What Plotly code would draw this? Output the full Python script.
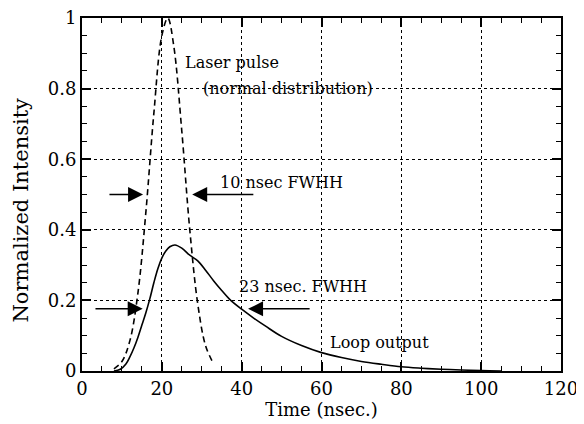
import plotly.graph_objects as go

# Laser pulse (dashed, normal distribution)
laser_t = [8, 10, 12, 14, 16, 18, 20, 21.5, 23, 25, 27, 29, 31, 33]
laser_i = [0.006, 0.027, 0.086, 0.22, 0.45, 0.73, 0.95, 1.0, 0.92, 0.68, 0.40, 0.19, 0.07, 0.02]

# Loop output (solid)
loop_t = [8, 9.6, 11, 12, 13, 14, 15, 16, 17, 18, 19, 20, 21, 22, 23.3, 25, 27, 29, 31, 33,
          35, 37, 40, 43, 46, 50, 55, 60, 65, 70, 75, 80, 85, 90, 95, 100, 105]
loop_i = [0, 0.005, 0.02, 0.04, 0.065, 0.095, 0.13, 0.165, 0.205, 0.25, 0.29, 0.32, 0.34, 0.352,
          0.357, 0.348, 0.328, 0.312, 0.285, 0.255, 0.228, 0.203, 0.175, 0.15, 0.127, 0.098,
          0.072, 0.052, 0.038, 0.027, 0.019, 0.012, 0.008, 0.005, 0.003, 0.001, 0.0]

x_ticks = [0, 20, 40, 60, 80, 100, 120]
y_ticks = [0, 0.2, 0.4, 0.6, 0.8, 1]
y_tick_labels = ["0", "0.2", "0.4", "0.6", "0.8", "1"]

FONT = "DejaVu Serif"

fig = go.Figure()
fig.add_trace(go.Scatter(x=laser_t, y=laser_i, mode="lines",
                         line=dict(color="black", width=1.6, dash="6px,4px"),
                         line_shape="spline", showlegend=False))
fig.add_trace(go.Scatter(x=loop_t, y=loop_i, mode="lines",
                         line=dict(color="black", width=1.6),
                         line_shape="spline", showlegend=False))

axis_common = dict(
    showline=True, linecolor="black", linewidth=2, mirror="ticks",
    ticks="inside", ticklen=9, tickwidth=1.5, tickcolor="black",
    showgrid=True, gridcolor="black", gridwidth=1.3, griddash="dot",
    zeroline=False, automargin=False, ticklabeloverflow="allow",
    tickfont=dict(family=FONT, size=18, color="black"),
    minor=dict(ticks="inside", ticklen=5, tickwidth=1.2, tickcolor="black", showgrid=False),
)

fig.update_xaxes(range=[0, 120], tickvals=x_ticks, minor_dtick=5,
                 title=dict(text="Time (nsec.)", font=dict(family=FONT, size=18, color="black"), standoff=2),
                 **axis_common)
fig.update_yaxes(range=[0, 1], tickvals=y_ticks, ticktext=y_tick_labels, minor_dtick=0.05,
                 **axis_common)

# y-axis title (placed slightly below centre, as in the reference)
fig.add_annotation(xref="paper", yref="paper", x=-0.127, y=0.455, text="Normalized Intensity",
                   textangle=-90, showarrow=False, xanchor="center", yanchor="middle",
                   font=dict(family=FONT, size=21, color="black"))

txt = dict(family=FONT, size=16, color="black")
for x, y, t in [(25.3, 0.875, "Laser pulse"), (29.8, 0.80, "(normal distribution)"),
                (34.1, 0.535, "10 nsec FWHH"), (38.8, 0.238, "23 nsec. FWHH"),
                (61.7, 0.082, "Loop output")]:
    fig.add_annotation(x=x, y=y, text=t, showarrow=False, xanchor="left", yanchor="middle",
                       font=txt, bgcolor="rgba(0,0,0,0)")

for tip_x, tip_y, tail_x, tail_y in [(15.3, 0.5, 6.5, 0.5), (27.6, 0.5, 43.3, 0.5),
                                     (15.2, 0.176, 3.0, 0.176), (41.6, 0.176, 57.4, 0.176)]:
    fig.add_annotation(x=tip_x, y=tip_y, ax=tail_x, ay=tail_y, axref="x", ayref="y",
                       xref="x", yref="y", text="", showarrow=True,
                       arrowhead=2, arrowsize=2.0, arrowwidth=1.5, arrowcolor="black")

# page body adds an 8px offset, so the figure is sized to fit the 584x424 window
fig.update_layout(width=576, height=416, paper_bgcolor="white", plot_bgcolor="white",
                  margin=dict(l=74, r=23, t=10, b=53), showlegend=False)

fig.write_html("out.html")
